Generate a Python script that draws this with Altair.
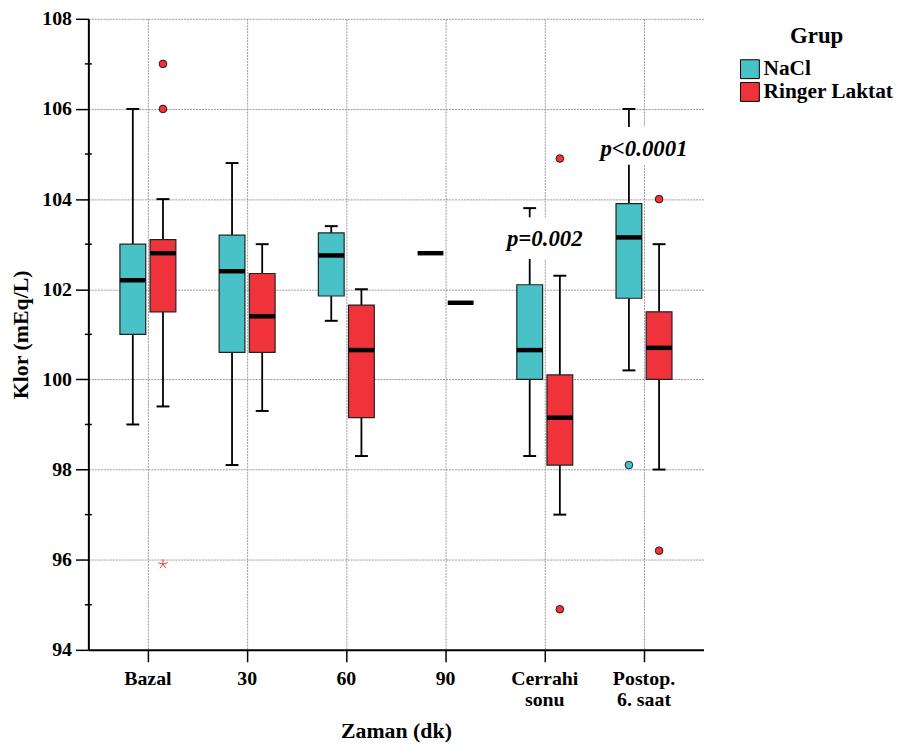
import altair as alt
import pandas as pd

# ---------------- data ----------------
categories = ["Bazal", "30", "60", "90", "Cerrahi|sonu", "Postop.|6. saat"]
groups = ["NaCl", "Ringer Laktat"]
colors = ["#48C2C6", "#F0333A"]

nacl_lower = [99.0, 98.1, 101.3, None, 98.3, 100.2]
nacl_q1 = [101.0, 100.6, 101.85, None, 100.0, 101.8]
nacl_median = [102.2, 102.4, 102.75, 102.8, 100.65, 103.15]
nacl_q3 = [103.0, 103.2, 103.25, None, 102.1, 103.9]
nacl_upper = [106.0, 104.8, 103.4, None, 103.8, 106.0]

rl_lower = [99.4, 99.3, 98.3, None, 97.0, 98.0]
rl_q1 = [101.5, 100.6, 99.15, None, 98.1, 100.0]
rl_median = [102.8, 101.4, 100.65, 101.7, 99.15, 100.7]
rl_q3 = [103.1, 102.35, 101.65, None, 100.1, 101.5]
rl_upper = [104.0, 103.0, 102.0, None, 102.3, 103.0]

outlier_cat = ["Bazal", "Bazal", "Cerrahi|sonu", "Cerrahi|sonu",
               "Postop.|6. saat", "Postop.|6. saat", "Postop.|6. saat"]
outlier_grp = ["Ringer Laktat", "Ringer Laktat", "Ringer Laktat", "Ringer Laktat",
               "NaCl", "Ringer Laktat", "Ringer Laktat"]
outlier_val = [107.0, 106.0, 104.9, 94.9, 98.1, 104.0, 96.2]

extreme_cat = ["Bazal"]
extreme_grp = ["Ringer Laktat"]
extreme_val = [95.9]

annot_cat = ["Cerrahi|sonu", "Postop.|6. saat"]
annot_text = ["p=0.002", "p<0.0001"]
annot_y = [103.11, 105.12]
annot_lo = [102.67, 104.76]
annot_hi = [103.6, 105.6]

y_ticks = [94, 96, 98, 100, 102, 104, 106, 108]
y_minor = [95, 97, 99, 101, 103, 105, 107]

# ---------------- tables ----------------
rows = []
for i, c in enumerate(categories):
    rows.append(dict(cat=c, grp=groups[0], lower=nacl_lower[i], q1=nacl_q1[i],
                     median=nacl_median[i], q3=nacl_q3[i], upper=nacl_upper[i]))
    rows.append(dict(cat=c, grp=groups[1], lower=rl_lower[i], q1=rl_q1[i],
                     median=rl_median[i], q3=rl_q3[i], upper=rl_upper[i]))
box_df = pd.DataFrame(rows)
out_df = pd.DataFrame(dict(cat=outlier_cat, grp=outlier_grp, v=outlier_val))
ext_df = pd.DataFrame(dict(cat=extreme_cat, grp=extreme_grp, v=extreme_val))
ann_df = pd.DataFrame(dict(cat=annot_cat, text=annot_text, y=annot_y, lo=annot_lo, hi=annot_hi))
minor_df = pd.DataFrame(dict(v=y_minor))

FONT = "Liberation Serif"

xaxis = alt.Axis(title="Zaman (dk)", labelExpr="split(datum.label, '|')", grid=True,
                 bandPosition=0.5, tickSize=12, labelPadding=7, labelAngle=0,
                 labelLineHeight=21, titlePadding=11)
yaxis = alt.Axis(title="Klor (mEq/L)", values=y_ticks, tickSize=13, labelPadding=4,
                 titlePadding=9, grid=True)
xscale = alt.Scale(paddingInner=0, paddingOuter=0.1)
yscale = alt.Scale(domain=[94, 108], nice=False, zero=False)


def X():
    return alt.X("cat:N", sort=categories, scale=xscale, axis=xaxis)


def XO():
    return alt.XOffset("grp:N", sort=groups,
                       scale=alt.Scale(paddingInner=0, paddingOuter=0.645))


def Y(f):
    return alt.Y(f, type="quantitative", scale=yscale, axis=yaxis)


base = alt.Chart(box_df)

wl = base.mark_rule(color="black", strokeWidth=1.8).encode(x=X(), xOffset=XO(), y=Y("lower"), y2="q1")
wu = base.mark_rule(color="black", strokeWidth=1.8).encode(x=X(), xOffset=XO(), y=Y("q3"), y2="upper")
caps = base.transform_fold(["lower", "upper"], as_=["k", "v"]).mark_tick(
    color="black", thickness=2, size=13, opacity=1).encode(x=X(), xOffset=XO(), y=Y("v"))
boxes = base.mark_bar(size=26, stroke="#222", strokeWidth=1.2).encode(
    x=X(), xOffset=XO(), y=Y("q1"), y2="q3",
    fill=alt.Fill("grp:N", sort=groups, scale=alt.Scale(domain=groups, range=colors),
                  legend=alt.Legend(title="Grup", orient="none", legendX=656, legendY=6,
                                    symbolType="square", symbolSize=361,
                                    symbolStrokeColor="black", symbolStrokeWidth=1,
                                    titleAnchor="middle", titlePadding=11, rowPadding=-3,
                                    labelOffset=3, padding=0,
                                    labelFont=FONT, labelFontSize=21.5, labelFontWeight="bold",
                                    labelColor="black",
                                    titleFont=FONT, titleFontSize=23, titleFontWeight="bold",
                                    titleColor="black")))
med = base.mark_tick(color="black", thickness=4.5, size=26, opacity=1).encode(
    x=X(), xOffset=XO(), y=Y("median"))
outs = alt.Chart(out_df).mark_point(filled=True, size=60, stroke="black", strokeWidth=0.8,
                                    opacity=1, shape="circle").encode(
    x=X(), xOffset=XO(), y=Y("v"),
    color=alt.Color("grp:N", scale=alt.Scale(domain=groups, range=colors), legend=None))
star_path = "M0,0L0,-1M0,0L0.95,-0.31M0,0L0.59,0.81M0,0L-0.59,0.81M0,0L-0.95,-0.31"
ext = alt.Chart(ext_df).mark_point(shape=star_path, size=100, filled=False,
                                   stroke="#F0333A", strokeWidth=1, opacity=1).encode(
    x=X(), xOffset=XO(), y=Y("v"))
bg = alt.Chart(ann_df).mark_bar(color="white", size=96).encode(x=X(), y=Y("lo"), y2="hi")
txt = alt.Chart(ann_df).mark_text(font=FONT, fontSize=23, fontWeight="bold",
                                  fontStyle="italic", color="black").encode(
    x=X(), y=Y("y"), text="text:N")
minor = alt.Chart(minor_df).mark_tick(color="black", thickness=1.5, size=7, opacity=1).encode(
    y=Y("v"), x=alt.value(0))

chart = alt.layer(wl, wu, caps, boxes, med, outs, ext, bg, txt, minor).properties(
    width=620, height=636,
    autosize=alt.AutoSizeParams(type="none"),
    padding={"left": 81, "top": 8, "right": 196, "bottom": 93},
).configure_view(stroke=None).configure_axis(
    domainColor="black", domainWidth=2, tickColor="black", tickWidth=1.5,
    gridColor="#9a9a9a", gridDash=[2, 1], gridWidth=1,
    labelFont=FONT, labelFontSize=20, labelFontWeight="bold", labelColor="black",
    titleFont=FONT, titleFontSize=22, titleFontWeight="bold", titleColor="black",
)

chart.save("out.html", embed_options={"renderer": "svg", "actions": False})
